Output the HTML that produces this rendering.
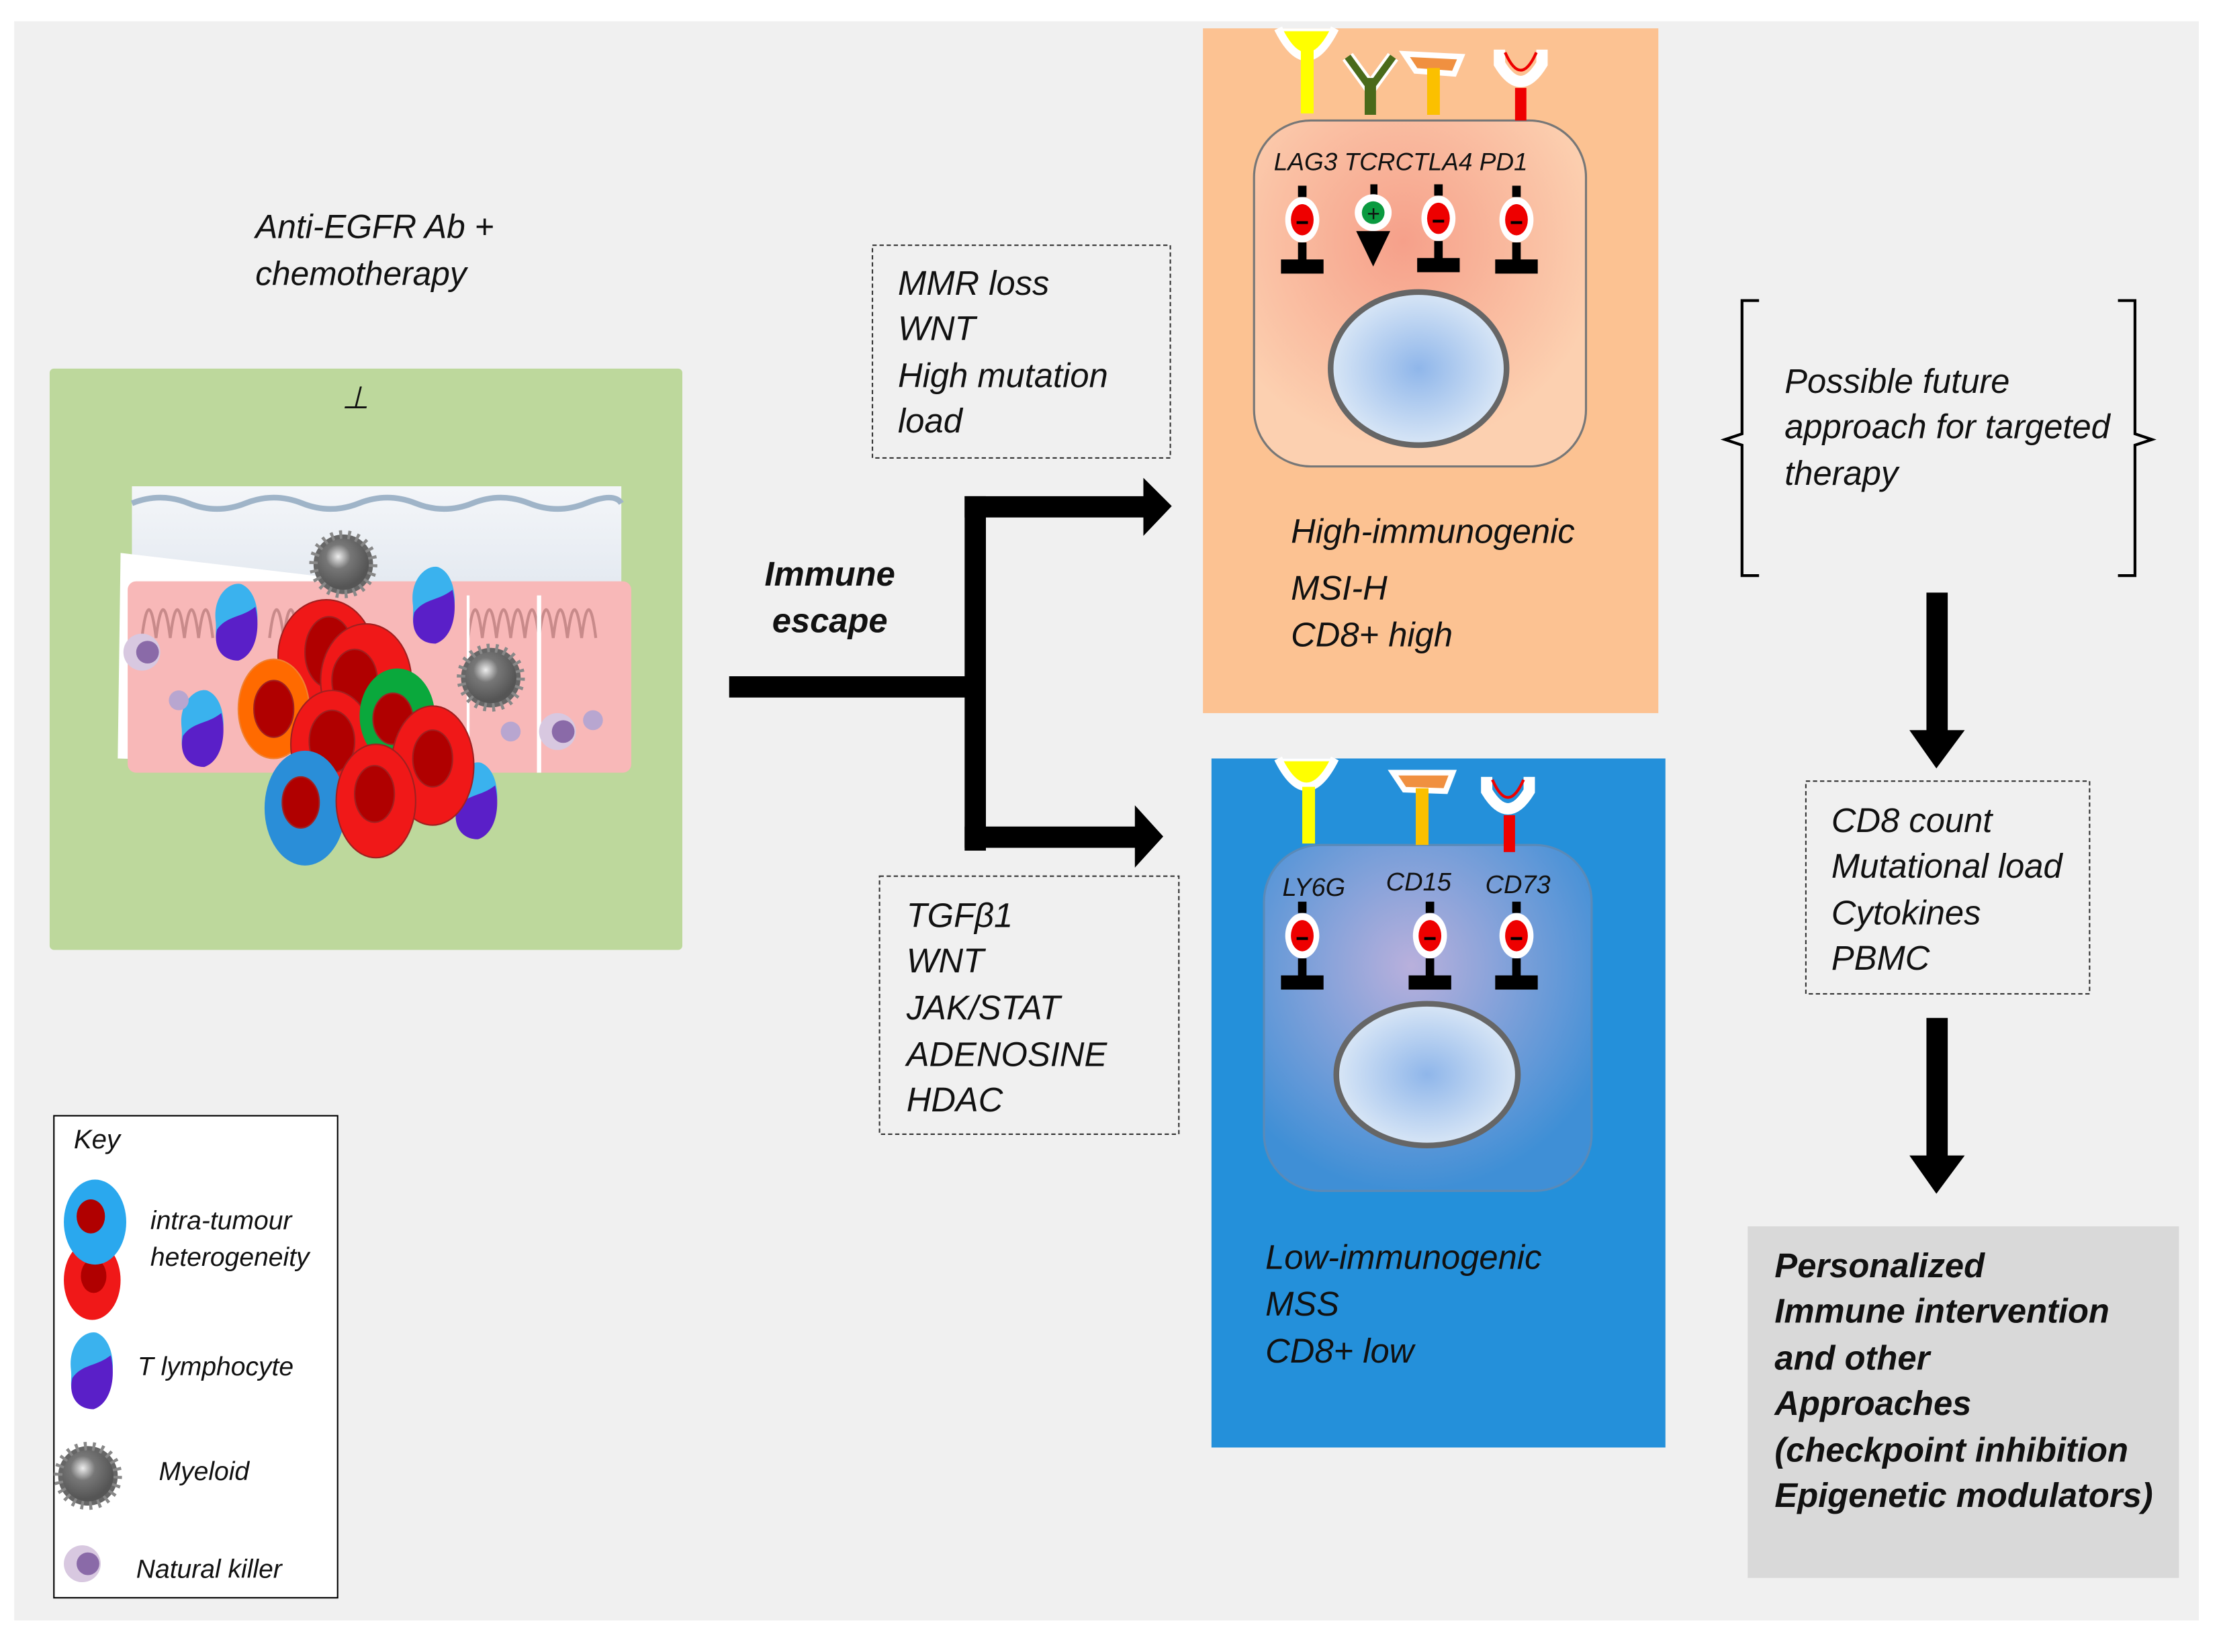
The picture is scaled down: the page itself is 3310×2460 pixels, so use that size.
<!DOCTYPE html>
<html><head><meta charset="utf-8"><style>
html,body{margin:0;padding:0;background:#fff}
svg{display:block}
text{font-family:"Liberation Sans",sans-serif;font-style:italic;fill:#111}
</style></head><body>
<svg width="3310" height="2460" viewBox="0 0 1560 1160" preserveAspectRatio="none" xmlns="http://www.w3.org/2000/svg">
<defs>
<radialGradient id="nuc" cx="50%" cy="50%" r="50%"><stop offset="0" stop-color="#8fb6ea"/><stop offset="1" stop-color="#d8e6f6"/></radialGradient>
<radialGradient id="hc" cx="45%" cy="35%" r="60%"><stop offset="0" stop-color="#f6a08a"/><stop offset="1" stop-color="#fcd0b0"/></radialGradient>
<radialGradient id="lc" cx="45%" cy="35%" r="65%"><stop offset="0" stop-color="#b9b0dc"/><stop offset="1" stop-color="#3f8fd6"/></radialGradient>
<linearGradient id="sky" x1="0" y1="0" x2="0" y2="1"><stop offset="0" stop-color="#f4f6f9"/><stop offset="1" stop-color="#d4dde8"/></linearGradient>
<radialGradient id="grey" cx="40%" cy="35%" r="60%"><stop offset="0" stop-color="#eee"/><stop offset="0.4" stop-color="#777"/><stop offset="1" stop-color="#555"/></radialGradient>
<g id="inh"><rect x="-3" y="-24" width="6" height="8" fill="#000"/><ellipse cx="0" cy="0" rx="12" ry="16" fill="#fff"/><ellipse cx="0" cy="0" rx="8" ry="11" fill="#e00"/><rect x="-4" y="1" width="8" height="2" fill="#000"/><rect x="-3" y="16" width="6" height="13" fill="#000"/><rect x="-15" y="28" width="30" height="10" fill="#000"/></g>
<g id="tc"><path d="M-14,-2 C-16,-20 -4,-30 4,-28 C14,-24 18,-8 14,8 C10,24 -4,28 -10,20 C-16,12 -13,6 -14,-2Z" fill="#3ab2ee"/><path d="M-13,4 C-6,-6 4,-4 14,-12 C18,4 14,22 2,26 C-10,26 -16,16 -13,4Z" fill="#5a1fc8"/></g>
<g id="nk"><circle r="13" fill="#d8c8e0"/><circle cx="4" cy="0" r="8" fill="#8a6aa8"/></g>
<g id="my"><circle r="21" fill="#666" stroke="#888" stroke-width="6" stroke-dasharray="2 4"/><circle r="18" fill="url(#grey)"/></g>
</defs>
<rect width="1560" height="1160" fill="#fff"/>
<g transform="scale(0.9955)">
<rect x="10" y="15" width="1540" height="1128" fill="#f0f0f0"/>

<!-- left panel -->
<text x="180" y="168" font-size="23.5">Anti-EGFR Ab +</text>
<text x="180" y="201" font-size="23.5">chemotherapy</text>
<rect x="35" y="260" width="446" height="410" fill="#bdd89c" rx="3"/>
<text x="241" y="288" font-size="22" font-style="normal">⊥</text>
<rect x="93" y="343" width="345" height="140" fill="url(#sky)"/>
<path d="M93,355 q20,-8 40,0 t40,0 t40,0 t40,0 t40,0 t40,0 t40,0 t40,0 t25,0" fill="none" stroke="#9fb4c8" stroke-width="4"/>
<path d="M85,390 L255,410 L255,540 L83,535Z" fill="#fff"/>
<rect x="90" y="410" width="355" height="135" fill="#f8b8b8" rx="6"/>
<g fill="none" stroke="#c88a8a" stroke-width="2">
<path d="M100,450 q5,-40 10,0 q5,-40 10,0 q5,-40 10,0 q5,-40 10,0 q5,-40 10,0 M190,450 q5,-40 10,0 q5,-40 10,0 q5,-40 10,0 M330,450 q5,-40 10,0 q5,-40 10,0 q5,-40 10,0 q5,-40 10,0 q5,-40 10,0 q5,-40 10,0 q5,-40 10,0 q5,-40 10,0 q5,-40 10,0"/>
</g>
<line x1="380" y1="420" x2="380" y2="545" stroke="#fff" stroke-width="3"/>
<line x1="330" y1="420" x2="330" y2="545" stroke="#fff" stroke-width="2"/>
<use href="#my" x="242" y="398"/>
<use href="#my" x="346" y="478"/>
<use href="#tc" x="166" y="440"/>
<use href="#tc" x="305" y="428"/>
<use href="#tc" x="142" y="515"/>
<use href="#tc" x="335" y="566"/>
<use href="#nk" x="100" y="460"/>
<use href="#nk" x="393" y="516"/>
<circle cx="360" cy="516" r="7" fill="#b8a6d0"/><circle cx="418" cy="508" r="7" fill="#b8a6d0"/><circle cx="126" cy="494" r="7" fill="#b8a6d0"/>
<g stroke="#a02020" stroke-width="1">
<ellipse cx="230" cy="463" rx="34" ry="40" fill="#f01818"/><ellipse cx="232" cy="460" rx="17" ry="25" fill="#b00000"/>
<ellipse cx="258" cy="480" rx="32" ry="40" fill="#f01818"/><ellipse cx="250" cy="480" rx="16" ry="22" fill="#b00000"/>
<ellipse cx="193" cy="500" rx="25" ry="35" fill="#ff6a00" stroke="#f08030"/><ellipse cx="193" cy="500" rx="14" ry="20" fill="#b00000"/>
<ellipse cx="234" cy="525" rx="29" ry="38" fill="#f01818"/><ellipse cx="234" cy="523" rx="16" ry="22" fill="#b00000"/>
<ellipse cx="280" cy="505" rx="26" ry="33" fill="#0aa83c" stroke="#0aa83c"/><ellipse cx="277" cy="507" rx="14" ry="18" fill="#b00000"/>
<ellipse cx="305" cy="540" rx="29" ry="42" fill="#f01818"/><ellipse cx="305" cy="535" rx="14" ry="20" fill="#b00000"/>
<ellipse cx="215" cy="570" rx="28" ry="40" fill="#2a8ed8" stroke="#2a8ed8"/><ellipse cx="212" cy="566" rx="13" ry="18" fill="#b00000"/>
<ellipse cx="265" cy="565" rx="28" ry="40" fill="#f01818"/><ellipse cx="264" cy="560" rx="14" ry="20" fill="#b00000"/>
</g>

<!-- key -->
<rect x="38" y="787" width="200" height="340" fill="#fff" stroke="#000" stroke-width="1"/>
<text x="52" y="810" font-size="19">Key</text>
<ellipse cx="65" cy="903" rx="20" ry="28" fill="#f01818"/><ellipse cx="66" cy="900" rx="9" ry="12" fill="#b00000"/>
<ellipse cx="67" cy="862" rx="22" ry="30" fill="#2aa8ee"/><ellipse cx="64" cy="858" rx="10" ry="12" fill="#b00000"/>
<text x="106" y="867" font-size="18.5">intra-tumour</text>
<text x="106" y="893" font-size="18.5">heterogeneity</text>
<use href="#tc" x="64" y="968"/>
<text x="97" y="970" font-size="18.5">T lymphocyte</text>
<use href="#my" x="62" y="1041"/>
<text x="112" y="1044" font-size="18.5">Myeloid</text>
<use href="#nk" x="58" y="1103"/>
<text x="96" y="1113" font-size="18.5">Natural killer</text>

<!-- arrows -->
<text x="585" y="413" font-size="24" font-weight="bold" text-anchor="middle">Immune</text>
<text x="585" y="446" font-size="24" font-weight="bold" text-anchor="middle">escape</text>
<rect x="514" y="477" width="176" height="15" fill="#000"/>
<rect x="680" y="350" width="15" height="250" fill="#000"/>
<rect x="680" y="350" width="128" height="15" fill="#000"/>
<polygon points="806,337 826,357 806,378" fill="#000"/>
<rect x="680" y="583" width="122" height="15" fill="#000"/>
<polygon points="800,568 820,590 800,612" fill="#000"/>

<rect x="615" y="173" width="210" height="150" fill="none" stroke="#333" stroke-dasharray="3 2"/>
<g font-size="24">
<text x="633" y="208">MMR loss</text>
<text x="633" y="240">WNT</text>
<text x="633" y="273">High mutation</text>
<text x="633" y="305">load</text>
</g>
<rect x="620" y="618" width="211" height="182" fill="none" stroke="#333" stroke-dasharray="3 2"/>
<g font-size="24">
<text x="639" y="654">TGFβ1</text>
<text x="639" y="686">WNT</text>
<text x="639" y="719">JAK/STAT</text>
<text x="639" y="752">ADENOSINE</text>
<text x="639" y="784">HDAC</text>
</g>

<!-- high panel -->
<rect x="848" y="20" width="321" height="483" fill="#fcc292"/>
<rect x="884" y="85" width="234" height="244" rx="40" fill="url(#hc)" stroke="#777" stroke-width="1.5"/>
<path d="M901,20 q20,40 40,0" fill="#fff" stroke="#fff" stroke-width="6"/><path d="M905,22 q16,30 32,0" fill="#ff0"/><rect x="917" y="35" width="9" height="45" fill="#ff0"/>
<path d="M950,40 l16,22 l16,-22" fill="none" stroke="#fff" stroke-width="9"/><path d="M950,40 l16,22 l16,-22" fill="none" stroke="#4a6a1a" stroke-width="5"/><rect x="962" y="55" width="8" height="26" fill="#4a6a1a"/>
<polygon points="990,38 1030,40 1025,52 998,50" fill="#f09040" stroke="#fff" stroke-width="4"/><rect x="1006" y="48" width="9" height="33" fill="#fbc000"/>
<path d="M1057,35 v10 q15,25 30,0 v-10" fill="none" stroke="#fff" stroke-width="8"/><path d="M1061,37 q11,25 22,0" fill="none" stroke="#e00" stroke-width="2"/><rect x="1068" y="62" width="8" height="23" fill="#e00"/>
<text x="898" y="120" font-size="17.5">LAG3 TCRCTLA4 PD1</text>
<use href="#inh" x="918" y="155"/>
<use href="#inh" x="1014" y="154"/>
<use href="#inh" x="1069" y="155"/>
<rect x="966" y="130" width="5" height="8" fill="#000"/>
<ellipse cx="968" cy="150" rx="13" ry="13" fill="#fff"/><circle cx="968" cy="150" r="8" fill="#0a9a40"/><text x="968" y="156" font-size="16" font-style="normal" text-anchor="middle">+</text>
<polygon points="956,163 980,163 968,188" fill="#000"/>
<ellipse cx="1000" cy="260" rx="62" ry="54" fill="url(#nuc)" stroke="#666" stroke-width="4"/>
<g font-size="24">
<text x="910" y="383">High-immunogenic</text>
<text x="910" y="423">MSI-H</text>
<text x="910" y="456">CD8+ high</text>
</g>

<!-- low panel -->
<rect x="854" y="535" width="320" height="486" fill="#2490da"/>
<rect x="891" y="596" width="231" height="244" rx="40" fill="url(#lc)" stroke="#5a8ab8" stroke-width="1.5"/>
<path d="M901,535 q20,40 40,0" fill="#fff" stroke="#fff" stroke-width="6"/><path d="M905,537 q16,30 32,0" fill="#ff0"/><rect x="918" y="555" width="9" height="40" fill="#ff0"/>
<polygon points="982,545 1024,545 1019,558 990,557" fill="#f09040" stroke="#fff" stroke-width="4"/><rect x="998" y="556" width="9" height="40" fill="#fbc000"/>
<path d="M1048,548 v10 q15,25 30,0 v-10" fill="none" stroke="#fff" stroke-width="8"/><path d="M1052,550 q11,25 22,0" fill="none" stroke="#e00" stroke-width="2"/><rect x="1060" y="575" width="8" height="26" fill="#e00"/>
<text x="904" y="632" font-size="18">LY6G</text><text x="977" y="628" font-size="18">CD15</text><text x="1047" y="630" font-size="18">CD73</text>
<use href="#inh" x="918" y="660"/>
<use href="#inh" x="1008" y="660"/>
<use href="#inh" x="1069" y="660"/>
<ellipse cx="1006" cy="758" rx="64" ry="50" fill="url(#nuc)" stroke="#666" stroke-width="4"/>
<g font-size="24">
<text x="892" y="895">Low-immunogenic</text>
<text x="892" y="928">MSS</text>
<text x="892" y="961">CD8+ low</text>
</g>

<!-- right -->
<path d="M1240,212 h-12 v94 l-12,4 l12,4 v92 h12" fill="none" stroke="#000" stroke-width="2"/>
<path d="M1493,212 h12 v94 l12,4 l-12,4 v92 h-12" fill="none" stroke="#000" stroke-width="2"/>
<g font-size="24">
<text x="1258" y="277">Possible future</text>
<text x="1258" y="309">approach for targeted</text>
<text x="1258" y="342">therapy</text>
</g>
<rect x="1358" y="418" width="15" height="100" fill="#000"/><polygon points="1346,515 1385,515 1365,542" fill="#000"/>
<rect x="1273" y="551" width="200" height="150" fill="none" stroke="#333" stroke-dasharray="3 2"/>
<g font-size="24">
<text x="1291" y="587">CD8 count</text>
<text x="1291" y="619">Mutational load</text>
<text x="1291" y="652">Cytokines</text>
<text x="1291" y="684">PBMC</text>
</g>
<rect x="1358" y="718" width="15" height="100" fill="#000"/><polygon points="1346,815 1385,815 1365,842" fill="#000"/>
<rect x="1232" y="865" width="304" height="248" fill="#d9d9d9"/>
<g font-size="24" font-weight="bold">
<text x="1251" y="901">Personalized</text>
<text x="1251" y="933">Immune intervention</text>
<text x="1251" y="966">and other</text>
<text x="1251" y="998">Approaches</text>
<text x="1251" y="1031">(checkpoint inhibition</text>
<text x="1251" y="1063">Epigenetic modulators)</text>
</g>
</g>
</svg>
</body></html>
